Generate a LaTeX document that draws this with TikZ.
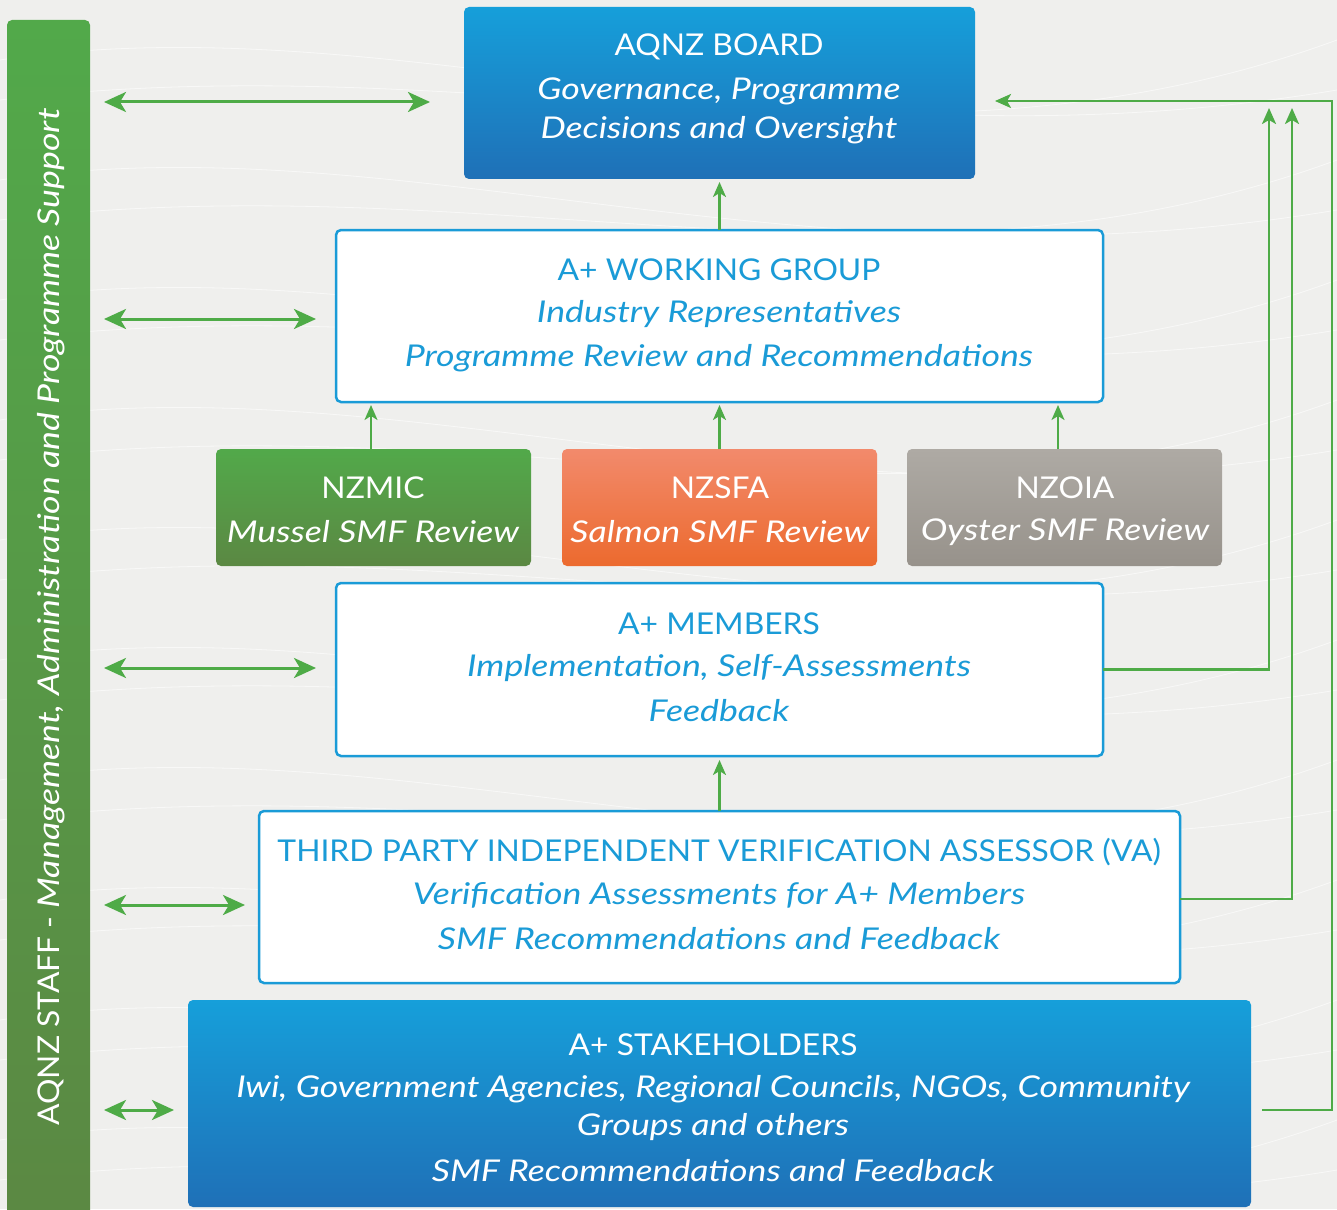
\documentclass[tikz,border=0pt]{standalone}
\usepackage{fontspec}
\setmainfont{Lato}[UprightFeatures={FakeStretch=1.06}, ItalicFeatures={FakeStretch=1.19}]
\usetikzlibrary{arrows.meta}
\definecolor{bg}{HTML}{EFEFED}
\definecolor{agreen}{HTML}{4EAB47}
\definecolor{tblue}{HTML}{1A9BD7}
\definecolor{bluetop}{HTML}{169FDA}
\definecolor{bluebot}{HTML}{1F70B7}
\definecolor{greentop}{HTML}{52A94A}
\definecolor{greenbot}{HTML}{5B8843}
\definecolor{orangetop}{HTML}{F28A6C}
\definecolor{orangebot}{HTML}{EC6A2E}
\definecolor{greytop}{HTML}{AEAAA4}
\definecolor{greybot}{HTML}{97928B}
\tikzset{
  boxbase/.style={rectangle, rounded corners=5pt, inner sep=0pt, outer sep=0pt},
  bluebox/.style={boxbase, top color=bluetop, bottom color=bluebot},
  whitebox/.style={boxbase, fill=white, draw=tblue, line width=2.5pt},
  greenbox/.style={boxbase, top color=greentop, bottom color=greenbot},
  orangebox/.style={boxbase, top color=orangetop, bottom color=orangebot},
  greybox/.style={boxbase, top color=greytop, bottom color=greybot},
  ttl/.style={font=\fontsize{30}{36}\selectfont, inner sep=0pt, yshift=-3pt},
  sub/.style={font=\fontsize{30}{36}\selectfont\itshape, inner sep=0pt, yshift=-3pt},
  dbl/.style={draw=agreen, line width=3pt, {Stealth[length=22pt,width=20pt,inset=6pt]}-{Stealth[length=22pt,width=20pt,inset=6pt]}},
  uparr/.style={draw=agreen, line width=2.2pt, -{Stealth[length=15pt,width=13pt,inset=4pt]}},
  conn/.style={draw=agreen, line width=2.5pt, -{Stealth[length=16pt,width=14pt,inset=4pt]}}
}
\begin{document}
\begin{tikzpicture}[x=1pt,y=-1pt]
\fill[bg] (0,0) rectangle (1337,1209);
\useasboundingbox (0,0) rectangle (1337,1209);
% faint background waves
\begin{scope}[draw=white, line width=0.8pt, opacity=0.6]
\foreach \k in {0,...,9}{
  \draw (0,{60+\k*120}) .. controls (400,{0+\k*120}) and (800,{180+\k*120}) .. (1337,{90+\k*120});
  \draw (0,{100+\k*120}) .. controls (500,{40+\k*120}) and (900,{200+\k*120}) .. (1337,{40+\k*120});
}
\end{scope}
% staff bar
\path[greenbox] (7,20) rectangle (90,1230);
\node[rotate=90, text=white, font=\fontsize{30}{36}\selectfont, inner sep=0pt] (stafftext) at (51,617)
  {AQNZ STAFF - \textit{Management, Administration and Programme Support}};
% boxes
\node[bluebox, minimum width=511pt, minimum height=172pt] (board) at (719.5,93) {};
\node[whitebox, minimum width=767pt, minimum height=172pt] (wg) at (719.5,316) {};
\node[greenbox, minimum width=315pt, minimum height=117pt] (nzmic) at (373.5,507.5) {};
\node[orangebox, minimum width=315pt, minimum height=117pt] (nzsfa) at (719.5,507.5) {};
\node[greybox, minimum width=315pt, minimum height=117pt] (nzoia) at (1064.5,507.5) {};
\node[whitebox, minimum width=767pt, minimum height=173pt] (members) at (719.5,669.5) {};
\node[whitebox, minimum width=921pt, minimum height=172pt] (va) at (719.5,897) {};
\node[bluebox, minimum width=1063pt, minimum height=207pt] (stake) at (719.5,1103.5) {};
% texts
\node[ttl, text=white] (t1) at (719,44) {AQNZ BOARD};
\node[sub, text=white] (t2) at (719,88) {Governance, Programme};
\node[sub, text=white] (t3) at (719,127) {Decisions and Oversight};
\node[ttl, text=tblue] (w1) at (719,267) {A+ WORKING GROUP};
\node[sub, text=tblue] (w2) at (719,311) {Industry Representatives};
\node[sub, text=tblue] (w3) at (719,355) {Programme Review and Recommendations};
\node[ttl, text=white] (m1) at (373,485) {NZMIC};
\node[sub, text=white] (m2) at (373,529) {Mussel SMF Review};
\node[ttl, text=white] (s1) at (720,485) {NZSFA};
\node[sub, text=white] (s2) at (720,529) {Salmon SMF Review};
\node[ttl, text=white] (o1) at (1065,485) {NZOIA};
\node[sub, text=white] (o2) at (1065,529) {Oyster SMF Review};
\node[ttl, text=tblue] (a1) at (719,621) {A+ MEMBERS};
\node[sub, text=tblue] (a2) at (719,665) {Implementation, Self-Assessments};
\node[sub, text=tblue] (a3) at (719,708) {Feedback};
\node[ttl, text=tblue] (v1) at (719,849) {THIRD PARTY INDEPENDENT VERIFICATION ASSESSOR (VA)};
\node[sub, text=tblue] (v2) at (719,892) {Verification Assessments for A+ Members};
\node[sub, text=tblue] (v3) at (719,936) {SMF Recommendations and Feedback};
\node[ttl, text=white] (k1) at (713,1042) {A+ STAKEHOLDERS};
\node[sub, text=white] (k2) at (713,1086) {Iwi, Government Agencies, Regional Councils, NGOs, Community};
\node[sub, text=white] (k3) at (713,1124) {Groups and others};
\node[sub, text=white] (k4) at (713,1168) {SMF Recommendations and Feedback};
% left double arrows
\draw[dbl] (104,102) -- ([xshift=-34pt,yshift=-9pt]board.west);
\draw[dbl] (104,319) -- ([xshift=-20pt,yshift=-3pt]wg.west);
\draw[dbl] (104,668) -- ([xshift=-20pt,yshift=1.5pt]members.west);
\draw[dbl] (104,905) -- ([xshift=-14pt,yshift=-8pt]va.west);
\draw[dbl] (104,1110) -- ([xshift=-14pt,yshift=-6.5pt]stake.west);
% vertical arrows
\draw[uparr] (wg.north) -- ([yshift=-3pt]board.south);
\draw[uparr] ([xshift=-2.5pt]nzmic.north) -- ([xshift=-2.5pt,yshift=-3pt]nzmic.north |- wg.south);
\draw[uparr] (nzsfa.north) -- ([yshift=-3pt]nzsfa.north |- wg.south);
\draw[uparr] ([xshift=-6.5pt]nzoia.north) -- ([xshift=-6.5pt,yshift=-3pt]nzoia.north |- wg.south);
\draw[uparr] (va.north) -- ([yshift=-4pt]members.south);
% right connectors
\coordinate (r1) at (1269,108);
\coordinate (r2) at (1292,108);
\coordinate (sk) at (1262,1110);
\coordinate (rc) at (1332,1110);
\coordinate (bin) at (995,101);
\draw[conn] (members.east) -| (r1);
\draw[conn] ([yshift=-2pt]va.east) -| (r2);
\draw[conn] (sk) -- (rc) |- (bin);
\end{tikzpicture}
\end{document}
